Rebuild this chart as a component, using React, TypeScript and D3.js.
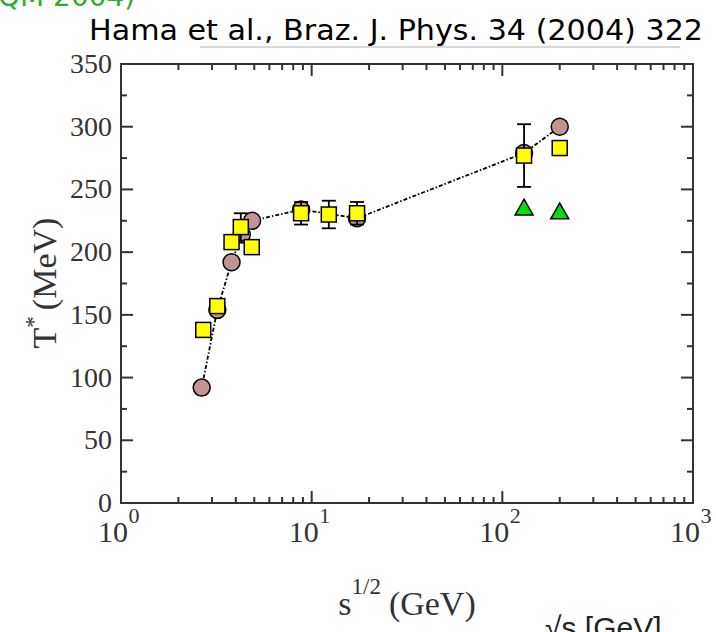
import React from "react";
import * as d3 from "d3";

const circleX = [2.65, 3.2, 3.8, 4.3, 4.87, 8.8, 17.3, 130, 200];
const circleY = [92, 154, 192, 214, 225, 234, 227, 279, 300];
const squareX = [2.7, 3.2, 3.8, 4.25, 4.85, 8.8, 12.3, 17.3, 130, 200];
const squareY = [138, 157, 208, 220, 204, 231, 230, 231, 277, 283];
const squareErr = [0, 0, 0, 11, 0, 9, 11, 9, 25, 0];
const triangleX = [130, 200];
const triangleY = [235, 232];
const yTicks = [0, 50, 100, 150, 200, 250, 300, 350];
const xDecades = [0, 1, 2, 3];

const W = 716, H = 632;
const L = 121, R = 693, T = 64, B = 503;

export default function App() {
  const x = d3.scaleLog().domain([1, 1000]).range([L, R]);
  const y = d3.scaleLinear().domain([0, 350]).range([B, T]);
  const axisColor = "#333";
  const textColor = "#333";
  const serif = "'Liberation Serif', 'Times New Roman', serif";

  const minorX: number[] = [];
  for (let d = 0; d < 3; d++) for (let k = 2; k <= 9; k++) minorX.push(k * Math.pow(10, d));
  const minorY: number[] = [];
  for (let v = 25; v < 350; v += 50) minorY.push(v);

  const line = d3.line<number>().x((_, i) => x(circleX[i])).y((v) => y(v));
  const tri = (cx: number, cy: number) => {
    const s = 9;
    return `M${cx},${cy - s} L${cx + s},${cy + s * 0.75} L${cx - s},${cy + s * 0.75} Z`;
  };

  return (
    <svg width={W} height={H} style={{ position: "absolute", left: 0, top: 0, background: "#fff" }}>
      <rect x={0} y={0} width={W} height={H} fill="#fff" />
      {/* header */}
      <text x={-2} y={6} fontFamily="'DejaVu Sans', sans-serif" fontSize={28} fill="#33aa33">QM 2004)</text>
      <line x1={200} x2={680} y1={47} y2={47} stroke="#ccc" strokeWidth={1.5} />
      <text x={89} y={40} fontFamily="'DejaVu Sans', sans-serif" fontSize={29} fill="#000" textLength={614} lengthAdjust="spacingAndGlyphs">Hama et al., Braz. J. Phys. 34 (2004) 322</text>
      <text x={545} y={638} fontFamily="'Liberation Sans', sans-serif" fontSize={30} fill="#222">√s [GeV]</text>

      {/* frame */}
      <rect x={L} y={T} width={R - L} height={B - T} fill="none" stroke={axisColor} strokeWidth={2} />
      {/* x ticks */}
      {xDecades.map((d) => {
        const px = x(Math.pow(10, d));
        return (
          <g key={"xm" + d}>
            <line x1={px} x2={px} y1={B} y2={B - 12} stroke={axisColor} strokeWidth={2} />
            <line x1={px} x2={px} y1={T} y2={T + 12} stroke={axisColor} strokeWidth={2} />
            <text x={px - 8} y={542} textAnchor="middle" fontFamily={serif} fontSize={30} fill={textColor}>10</text>
            <text x={px + 13} y={523} textAnchor="middle" fontFamily={serif} fontSize={22} fill={textColor}>{d}</text>
          </g>
        );
      })}
      {minorX.map((v) => (
        <g key={"xn" + v}>
          <line x1={x(v)} x2={x(v)} y1={B} y2={B - 6} stroke={axisColor} strokeWidth={2} />
          <line x1={x(v)} x2={x(v)} y1={T} y2={T + 6} stroke={axisColor} strokeWidth={2} />
        </g>
      ))}
      {/* y ticks */}
      {yTicks.map((v) => (
        <g key={"ym" + v}>
          <line x1={L} x2={L + 12} y1={y(v)} y2={y(v)} stroke={axisColor} strokeWidth={2} />
          <line x1={R} x2={R - 12} y1={y(v)} y2={y(v)} stroke={axisColor} strokeWidth={2} />
          <text x={112} y={y(v) + 9} textAnchor="end" fontFamily={serif} fontSize={28} fill={textColor}>{v}</text>
        </g>
      ))}
      {minorY.map((v) => (
        <g key={"yn" + v}>
          <line x1={L} x2={L + 6} y1={y(v)} y2={y(v)} stroke={axisColor} strokeWidth={2} />
          <line x1={R} x2={R - 6} y1={y(v)} y2={y(v)} stroke={axisColor} strokeWidth={2} />
        </g>
      ))}
      {/* axis titles */}
      <text x={407} y={615} textAnchor="middle" fontFamily={serif} fontSize={34} fill={textColor}>
        s<tspan dy={-21} fontSize={23}>1/2</tspan><tspan dy={21} dx={8}>(GeV)</tspan>
      </text>
      <text transform="translate(56,283) rotate(-90)" textAnchor="middle" fontFamily={serif} fontSize={34} fill={textColor}>
        T<tspan dy={-15} fontSize={23}>*</tspan><tspan dy={15} dx={6}>(MeV)</tspan>
      </text>

      {/* data */}
      <path d={line(circleY) || ""} fill="none" stroke="#000" strokeWidth={1.8} strokeDasharray="4,2,1.5,2" />
      {circleY.map((v, i) => (
        <circle key={"c" + i} cx={x(circleX[i])} cy={y(v)} r={8.5} fill="#c29393" stroke="#000" strokeWidth={1.5} />
      ))}
      {squareY.map((v, i) =>
        squareErr[i] > 0 ? (
          <g key={"e" + i} stroke="#000" strokeWidth={1.8}>
            <line x1={x(squareX[i])} x2={x(squareX[i])} y1={y(v - squareErr[i])} y2={y(v + squareErr[i])} />
            <line x1={x(squareX[i]) - 7} x2={x(squareX[i]) + 7} y1={y(v - squareErr[i])} y2={y(v - squareErr[i])} />
            <line x1={x(squareX[i]) - 7} x2={x(squareX[i]) + 7} y1={y(v + squareErr[i])} y2={y(v + squareErr[i])} />
          </g>
        ) : null
      )}
      {squareY.map((v, i) => (
        <rect key={"s" + i} x={x(squareX[i]) - 7.5} y={y(v) - 7.5} width={15} height={15} fill="#ffff00" stroke="#000" strokeWidth={1.5} />
      ))}
      {triangleY.map((v, i) => (
        <path key={"t" + i} d={tri(x(triangleX[i]), y(v))} fill="#00e000" stroke="#000" strokeWidth={1.5} />
      ))}
    </svg>
  );
}
